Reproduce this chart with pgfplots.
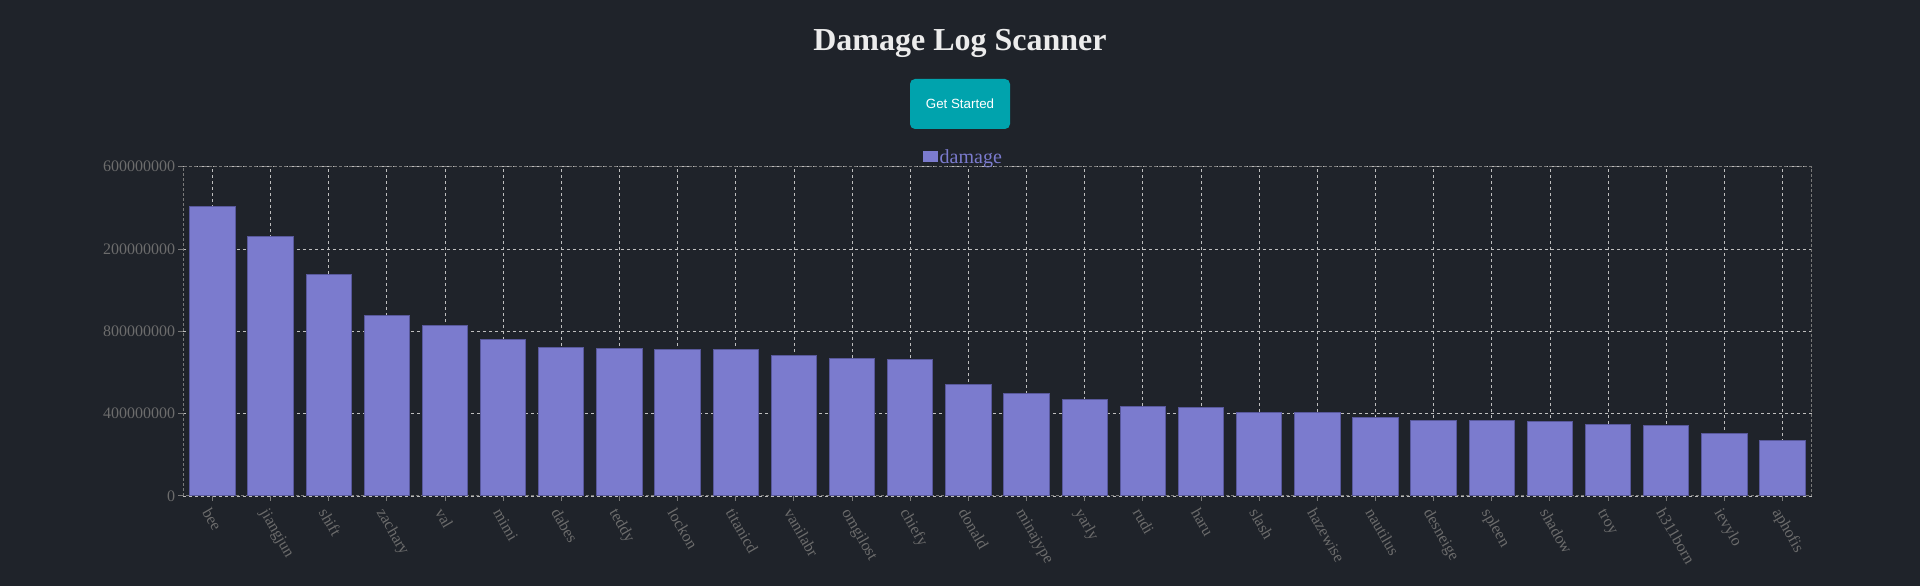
\documentclass[border=0pt]{standalone}
\usepackage{pgfplots}
\pgfplotsset{compat=1.18}
\usepackage{fontspec}
\setmainfont{Liberation Serif}
\newfontfamily\btnfont{Liberation Sans}
\definecolor{bgc}{RGB}{31,35,42}
\definecolor{barc}{RGB}{123,123,206}
\definecolor{barb}{RGB}{88,88,155}
\definecolor{gridc}{RGB}{190,190,190}
\definecolor{axc}{RGB}{120,120,120}
\definecolor{labc}{RGB}{108,108,108}
\definecolor{titlec}{RGB}{236,236,236}
\definecolor{btnc}{RGB}{0,163,173}
\begin{document}
\begin{tikzpicture}
\fill[bgc] (0pt,0pt) rectangle (1920pt,586pt);
\useasboundingbox (0pt,0pt) rectangle (1920pt,586pt);
\node[anchor=base, text=titlec, font=\fontsize{32}{38}\selectfont\bfseries, inner sep=0pt] at (960pt,535pt) {Damage Log Scanner};
\fill[btnc, rounded corners=5pt] (910pt,457pt) rectangle (1010pt,507pt);
\node[text=white, font=\btnfont\fontsize{13.33}{16}\selectfont, inner sep=0pt] at (960pt,482pt) {Get Started};
\begin{axis}[
  at={(183.3pt,90pt)}, anchor=south west,
  scale only axis, width=1628.4pt, height=329.3pt,
  xmin=-0.5, xmax=27.5, ymin=0, ymax=1600000000,
  xtick={0,...,27},
  xticklabels={bee,jiangjun,shift,zachary,val,mimi,dabes,teddy,lockon,titanicd,vanilabr,omgilost,chiefy,donald,minajype,yarly,rudi,haru,slash,hazewise,nautilus,desneige,spleen,shadow,troy,h311born,ievylo,aphofis},
  ytick={0,400000000,800000000,1200000000,1600000000},
  yticklabels={0,400000000,800000000,200000000,600000000},
  scaled y ticks=false,
  grid=major,
  grid style={gridc, line width=0.8pt, dash pattern=on 3pt off 3pt},
  axis line style={axc, line width=1pt, dash pattern=on 3pt off 2pt},
  tick style={axc, line width=1pt, solid},
  major tick length=5pt, tick align=outside,
  xtick pos=left, ytick pos=left,
  ticklabel style={text=labc, font=\fontsize{16}{19}\selectfont},
  yticklabel style={inner sep=0pt, xshift=-3pt},
  xticklabel style={xshift=-10.5pt, yshift=-11.5pt, rotate=-60, anchor=base west, inner sep=0pt},
  ybar, bar width=0.78,
  legend style={at={(0.479,1)}, anchor=south, draw=none, fill=none, text=barc, font=\fontsize{20}{24}\selectfont, inner sep=0pt, yshift=-1pt},
  legend image code/.code={\fill[barc] (0pt,-4pt) rectangle (14pt,6.6pt);},
]
\addplot[fill=barc, draw=barb, line width=1pt] coordinates {
(0,1409000000) (1,1260000000) (2,1077000000) (3,878000000) (4,826000000)
(5,761000000) (6,722000000) (7,717000000) (8,714000000) (9,711000000)
(10,683000000) (11,669000000) (12,663000000) (13,541000000) (14,496000000)
(15,468000000) (16,434000000) (17,428000000) (18,408000000) (19,408000000)
(20,381000000) (21,368000000) (22,366000000) (23,361000000) (24,345000000)
(25,342000000) (26,303000000) (27,269000000)
};
\addlegendentry{damage}
\end{axis}
\end{tikzpicture}
\end{document}
